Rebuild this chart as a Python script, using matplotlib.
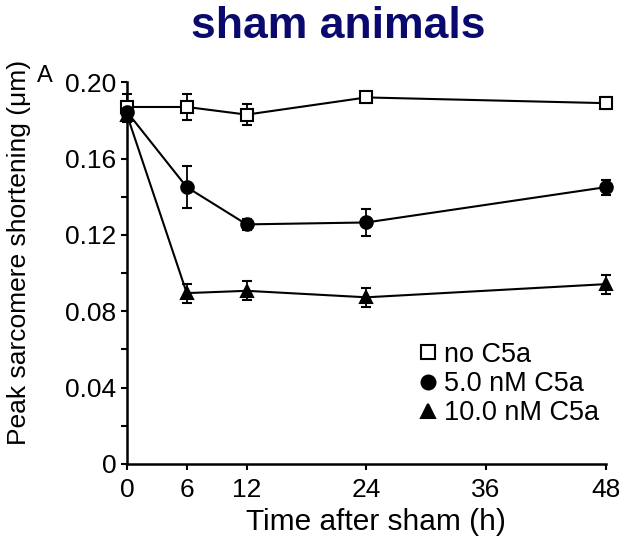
import matplotlib.pyplot as plt
from matplotlib.lines import Line2D
import numpy as np

plt.rcParams['font.family'] = ['Liberation Sans', 'DejaVu Sans']

hours = [0, 6, 12, 24, 48]
no_c5a = [0.187, 0.187, 0.183, 0.192, 0.189]
no_c5a_err = [0.007, 0.007, 0.0055, 0.003, 0.003]
c5a_5 = [0.1845, 0.145, 0.1255, 0.1265, 0.145]
c5a_5_err = [0.004, 0.011, 0.003, 0.007, 0.004]
c5a_10 = [0.183, 0.0895, 0.0907, 0.0873, 0.0942]
c5a_10_err = [0.004, 0.005, 0.005, 0.005, 0.005]
labels = ['no C5a', '5.0 nM C5a', '10.0 nM C5a']

fig = plt.figure(figsize=(6.41, 5.37), dpi=100)
ax = fig.add_axes([0.198, 0.136, 0.747, 0.711])

series = [(no_c5a, no_c5a_err, 's', 'white'),
          (c5a_5, c5a_5_err, 'o', 'black'),
          (c5a_10, c5a_10_err, '^', 'black')]
handles = []
for (vals, err, m, fc), lab in zip(series, labels):
    ax.errorbar(hours, vals, yerr=err, marker=m, mfc=fc, mec='black', color='black',
                ms=9, mew=1.5, lw=1.5, capsize=3.5, elinewidth=1.3, capthick=1.3,
                clip_on=False, zorder=3)
    handles.append(Line2D([], [], ls='none', marker=m, mfc=fc, mec='black',
                          ms=10, mew=1.5, label=lab))

ax.set_xlim(0, 48)
ax.set_ylim(0, 0.20)
ax.set_xticks([0, 6, 12, 24, 36, 48])
ax.set_yticks([0, 0.04, 0.08, 0.12, 0.16, 0.20])
ax.set_yticklabels(['0', '0.04', '0.08', '0.12', '0.16', '0.20'])
ax.set_yticks(np.arange(0.02, 0.2, 0.04), minor=True)
ax.spines['top'].set_visible(False)
ax.spines['right'].set_visible(False)
ax.spines['left'].set_linewidth(1.8)
ax.spines['bottom'].set_linewidth(1.8)
ax.tick_params(axis='both', which='major', direction='out', length=4.5, width=1.5,
               labelsize=19)
ax.tick_params(axis='x', which='major', pad=5.5)
ax.tick_params(axis='y', which='major', pad=3)
ax.tick_params(axis='y', which='minor', direction='out', length=4, width=1.5)

ax.set_xlabel('Time after sham (h)', fontsize=21.5)
ax.xaxis.label.set_va('center')
ax.xaxis.set_label_coords(0.52, -0.152)
ax.set_ylabel('Peak sarcomere shortening (\u03bcm)', fontsize=19)
ax.yaxis.label.set_va('center')
ax.yaxis.set_label_coords(-0.225, 0.554)

ax.legend(handles=handles, loc='upper left', bbox_to_anchor=(0.608, 0.32), frameon=False,
          fontsize=19.5, handlelength=0.7, handletextpad=0.25, labelspacing=0.12,
          borderaxespad=0, borderpad=0)

fig.text(0.527, 0.95, 'sham animals', ha='center', va='center', fontsize=32,
         fontweight='bold', color='#0a0a6e')
fig.text(0.07, 0.858, 'A', ha='center', va='center', fontsize=17)

fig.savefig('out.png', dpi=100)
